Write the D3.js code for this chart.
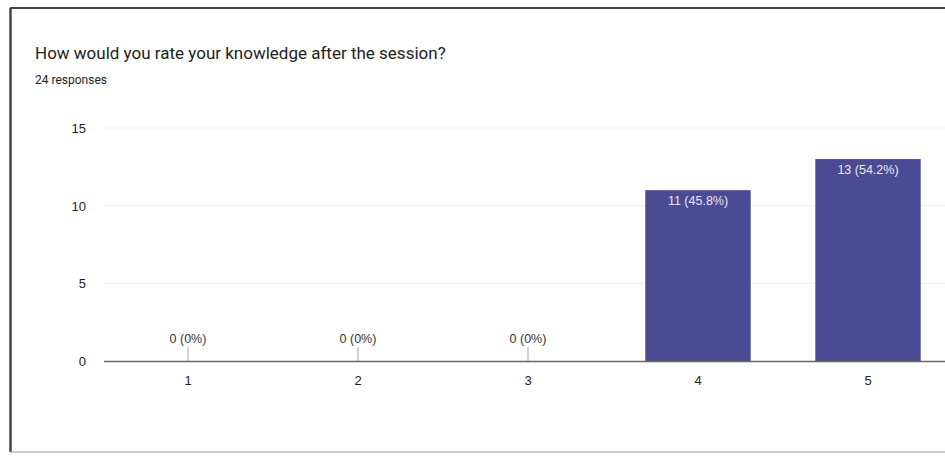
<!DOCTYPE html>
<html><head><meta charset="utf-8">
<script src="https://cdn.jsdelivr.net/npm/d3@7"></script>
<style>body{margin:0;background:#fff;font-family:Roboto,Arial,sans-serif}</style>
</head><body><svg id="c" width="945" height="457"></svg>
<script>
const categories = ["1","2","3","4","5"];
const counts = [0,0,0,11,13];
const labels = ["0 (0%)","0 (0%)","0 (0%)","11 (45.8%)","13 (54.2%)"];
const yTicks = [0,5,10,15];
const title = "How would you rate your knowledge after the session?";
const subtitle = "24 responses";

const svg = d3.select("#c");
// card frame
svg.append("line").attr("x1",10).attr("x2",945).attr("y1",8).attr("y2",8).attr("stroke","#444").attr("stroke-width",2);
svg.append("line").attr("x1",10.5).attr("x2",10.5).attr("y1",8).attr("y2",452).attr("stroke","#444").attr("stroke-width",2.5);
svg.append("line").attr("x1",10).attr("x2",945).attr("y1",452).attr("y2",452).attr("stroke","#999").attr("stroke-width",1);

svg.append("text").attr("x",35).attr("y",59).attr("font-size",17).attr("fill","#222").text(title);
svg.append("text").attr("x",35).attr("y",84).attr("font-size",12).attr("fill","#222").text(subtitle);

const x = d3.scaleBand().domain(categories).range([103,953]).paddingInner(0.38).paddingOuter(0.19);
const y = d3.scaleLinear().domain([0,15]).range([361,128]);

// gridlines
svg.append("g").selectAll("line").data(yTicks.filter(d=>d>0)).join("line")
  .attr("x1",104).attr("x2",945).attr("y1",d=>y(d)).attr("y2",d=>y(d))
  .attr("stroke","#f0f0f0").attr("stroke-width",1);

// y axis labels
const ya = svg.append("g").attr("transform","translate(86,0)")
  .call(d3.axisLeft(y).tickValues(yTicks).tickSize(0).tickPadding(0));
ya.select(".domain").remove();
ya.selectAll("text").attr("font-size",13).attr("fill","#222").attr("font-family","Arial,sans-serif").attr("dy","0.35em");

// bars
svg.append("g").selectAll("rect").data(counts).join("rect")
  .attr("x",(d,i)=>x(categories[i])).attr("width",x.bandwidth())
  .attr("y",d=>y(d)).attr("height",d=>y(0)-y(d))
  .attr("fill","#4b4b93");

// zero stubs
svg.append("g").selectAll("line").data(counts.map((d,i)=>[d,i]).filter(p=>p[0]===0)).join("line")
  .attr("x1",p=>x(categories[p[1]])+x.bandwidth()/2).attr("x2",p=>x(categories[p[1]])+x.bandwidth()/2)
  .attr("y1",y(0)-14).attr("y2",y(0)).attr("stroke","#aaa").attr("stroke-width",1);

// x axis
const xa = svg.append("g").attr("transform",`translate(0,${y(0)})`)
  .call(d3.axisBottom(x).tickSize(0).tickPadding(15));
xa.select(".domain").attr("stroke","#666").attr("stroke-width",1.5).attr("d","M104,0.5H945");
xa.selectAll("text").attr("font-size",13).attr("fill","#222").attr("font-family","Arial,sans-serif");

// value labels
svg.append("g").selectAll("text").data(counts).join("text")
  .attr("x",(d,i)=>x(categories[i])+x.bandwidth()/2)
  .attr("y",d=>d===0? y(0)-18 : y(d)+15)
  .attr("text-anchor","middle").attr("font-size",12.5)
  .attr("font-family","Arial,sans-serif")
  .attr("fill",d=>d===0?"#333":"#e8e8f4")
  .text((d,i)=>labels[i]);
</script></body></html>
